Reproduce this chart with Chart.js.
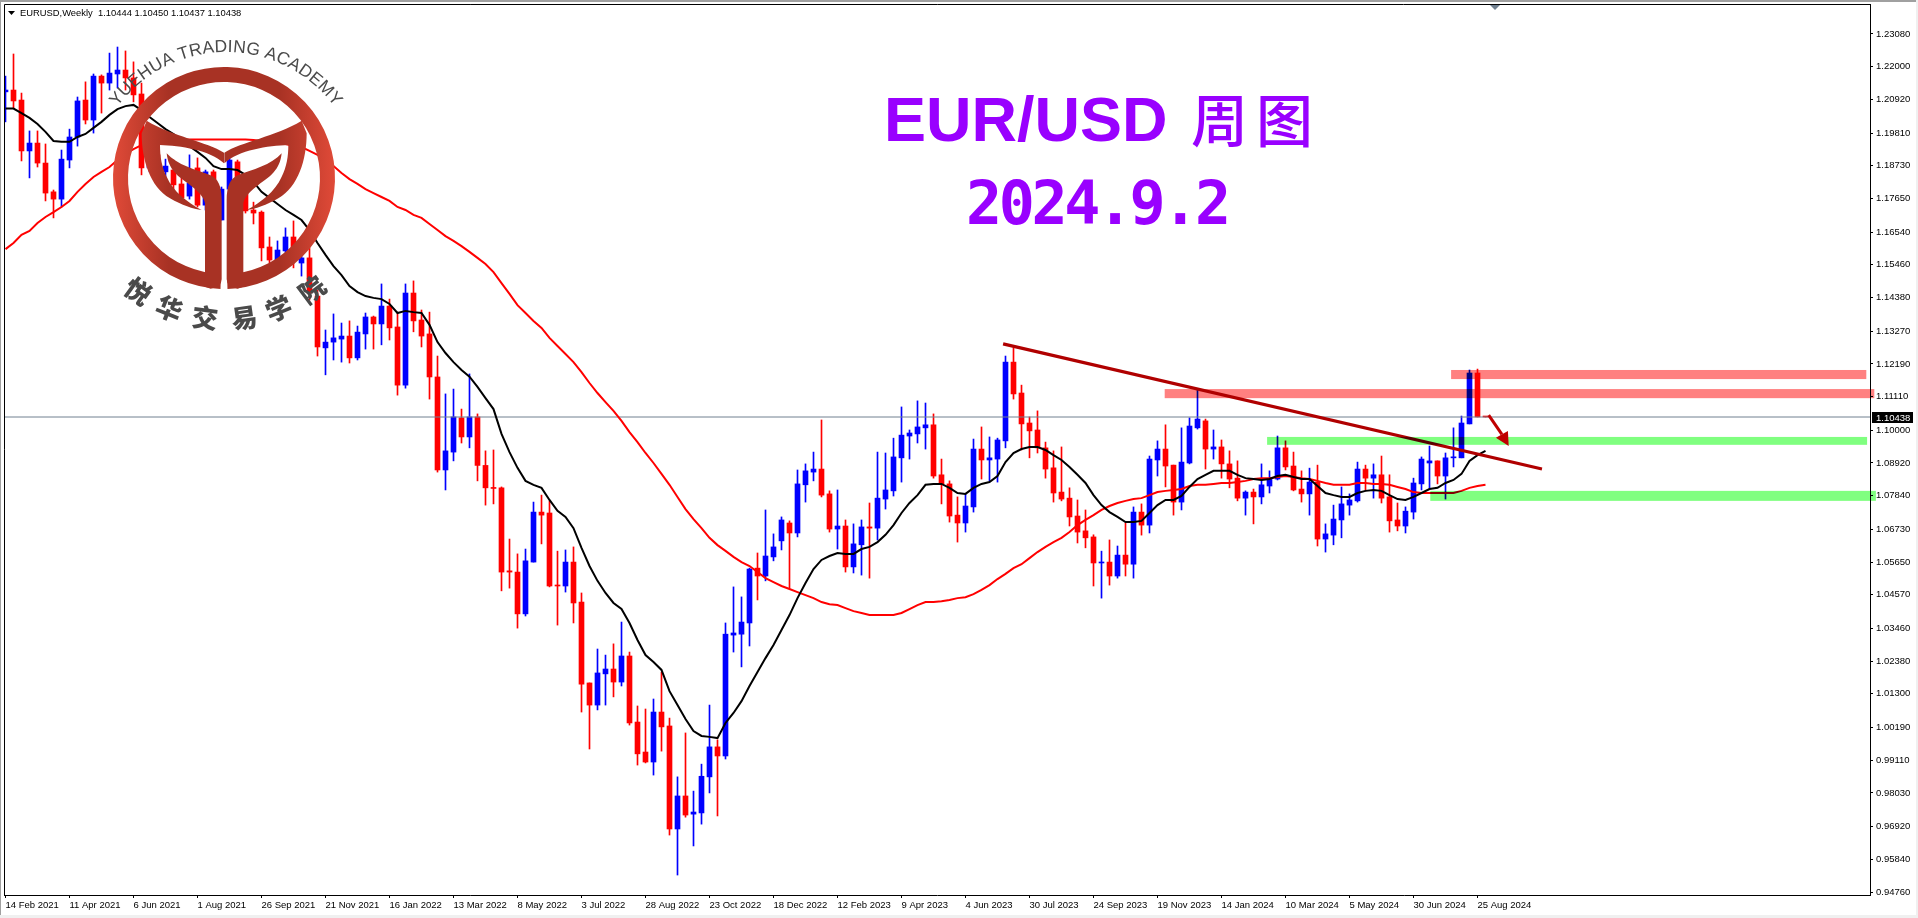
<!DOCTYPE html>
<html>
<head>
<meta charset="utf-8">
<title>EURUSD Weekly</title>
<script src="https://cdn.jsdelivr.net/npm/chart.js@4"></script>
<style>
  html, body { margin: 0; padding: 0; background: #fff; overflow: hidden; }
  canvas { display: block; }
</style>
</head>
<body>
<canvas id="chart" width="1918" height="918"></canvas>
<script>
const dateLabels = ['14 Feb 2021','11 Apr 2021','6 Jun 2021','1 Aug 2021','26 Sep 2021','21 Nov 2021','16 Jan 2022','13 Mar 2022','8 May 2022','3 Jul 2022','28 Aug 2022','23 Oct 2022','18 Dec 2022','12 Feb 2023','9 Apr 2023','4 Jun 2023','30 Jul 2023','24 Sep 2023','19 Nov 2023','14 Jan 2024','10 Mar 2024','5 May 2024','30 Jun 2024','25 Aug 2024'];
const priceTicks = [1.2308,1.22,1.2092,1.1981,1.1873,1.1765,1.1654,1.1546,1.1438,1.1327,1.1219,1.1111,1.1,1.0892,1.0784,1.0673,1.0565,1.0457,1.0346,1.0238,1.013,1.0019,0.9911,0.9803,0.9692,0.9584,0.9476];

// weekly candles, one entry per bar
const opens = [1.2117,1.2123,1.2090,1.1922,1.1948,1.1882,1.1787,1.1763,1.1892,1.1968,
1.2090,1.2024,1.2169,1.2146,1.2176,1.2189,1.2163,1.2110,1.1866,1.1909,
1.1853,1.1859,1.1813,1.1773,1.1866,1.1743,1.1853,1.1694,1.1796,1.1886,
1.1793,1.1727,1.1720,1.1605,1.1562,1.1592,1.1638,1.1552,1.1569,1.1443,
1.1272,1.1291,1.1301,1.1311,1.1239,1.1318,1.1374,1.1351,1.1410,1.1341,
1.1149,1.1453,1.1364,1.1318,1.1176,1.0869,1.0928,1.1041,1.0978,1.1044,
1.0884,1.0811,1.0810,1.0536,1.0532,1.0394,1.0565,1.0730,1.0727,1.0489,
1.0486,1.0565,1.0433,1.0166,1.0093,1.0196,1.0212,1.0169,1.0255,1.0037,
0.9938,0.9905,1.0070,1.0024,0.9684,0.9793,0.9733,0.9737,0.9856,0.9955,
0.9925,1.0324,1.0327,1.0364,1.0545,1.0519,1.0582,1.0635,1.0694,1.0661,
1.0820,1.0862,1.0872,1.0790,1.0674,1.0684,1.0549,1.0622,1.0681,1.0677,
1.0773,1.0800,1.0909,1.0981,1.0988,1.1008,1.1018,1.0853,1.0823,1.0720,
1.0694,1.0747,1.0938,1.0902,1.0905,1.0965,1.1225,1.1123,1.1024,1.1001,
1.0942,1.0876,1.0796,1.0776,1.0717,1.0668,1.0648,1.0562,1.0565,1.0519,
1.0588,1.0558,1.0730,1.0687,1.0902,1.0938,1.0885,1.0763,1.0892,1.1008,
1.1031,1.0938,1.0945,1.0889,1.0842,1.0776,1.0796,1.0780,1.0816,1.0839,
1.0942,1.0882,1.0806,1.0790,1.0829,1.0641,1.0654,1.0704,1.0753,1.0767,
1.0872,1.0842,1.0853,1.0780,1.0704,1.0684,1.0730,1.0823,1.0892,1.0899,
1.0849,1.0909,1.0909,1.1021,1.1189,1.10444];
const highs = [1.2169,1.2242,1.2113,1.1988,1.1988,1.1945,1.1793,1.1925,1.1994,1.2100,
1.2150,1.2176,1.2173,1.2245,1.2265,1.2252,1.2216,1.2146,1.1925,1.1941,
1.1895,1.1892,1.1833,1.1909,1.1899,1.1859,1.1859,1.1803,1.1899,1.1892,
1.1810,1.1753,1.1724,1.1638,1.1625,1.1668,1.1691,1.1585,1.1602,1.1463,
1.1331,1.1384,1.1354,1.1361,1.1344,1.1387,1.1377,1.1483,1.1433,1.1390,
1.1483,1.1493,1.1397,1.1390,1.1245,1.1120,1.1136,1.1070,1.1186,1.1054,
1.0932,1.0935,1.0813,1.0641,1.0592,1.0608,1.0763,1.0786,1.0767,1.0601,
1.0605,1.0615,1.0463,1.0166,1.0278,1.0258,1.0295,1.0367,1.0268,1.0090,
1.0080,1.0113,1.0202,1.0050,0.9856,1.0001,0.9809,0.9898,1.0093,0.9978,
1.0364,1.0483,1.0450,1.0545,1.0595,1.0737,1.0658,1.0714,1.0701,1.0869,
1.0889,1.0928,1.1034,1.0800,1.0803,1.0704,1.0691,1.0704,1.0760,1.0928,
1.0925,1.0974,1.1077,1.1001,1.1097,1.1090,1.1054,1.0905,1.0833,1.0780,
1.0790,1.0971,1.1011,1.0978,1.0974,1.1245,1.1272,1.1149,1.1044,1.1064,
1.0961,1.0932,1.0945,1.0810,1.0770,1.0737,1.0655,1.0601,1.0638,1.0618,
1.0694,1.0747,1.0757,1.0915,1.0965,1.1018,1.0885,1.1008,1.1041,1.1136,
1.1037,1.1001,1.0968,1.0932,1.0899,1.0800,1.0806,1.0889,1.0866,1.0981,
1.0965,1.0928,1.0866,1.0875,1.0885,1.0691,1.0753,1.0813,1.0790,1.0895,
1.0885,1.0889,1.0915,1.0853,1.0760,1.0747,1.0842,1.0912,1.0948,1.0899,
1.0925,1.1008,1.1047,1.1199,1.1202,1.10450];
const lows = [1.2018,1.2064,1.1889,1.1833,1.1869,1.1757,1.1701,1.1737,1.1866,1.1938,
1.2011,1.1981,1.2047,1.2123,1.2130,1.2123,1.2084,1.1843,1.1853,1.1833,
1.1826,1.1787,1.1760,1.1763,1.1737,1.1727,1.1678,1.1694,1.1793,1.1787,
1.1717,1.1681,1.1559,1.1552,1.1546,1.1569,1.1536,1.1509,1.1430,1.1245,
1.1183,1.1232,1.1225,1.1222,1.1232,1.1268,1.1268,1.1282,1.1298,1.1116,
1.1139,1.1325,1.1275,1.1103,1.0862,1.0803,1.0899,1.0958,1.0942,1.0833,
1.0753,1.0757,1.0470,1.0479,1.0347,1.0387,1.0565,1.0625,1.0483,1.0357,
1.0466,1.0364,1.0070,0.9948,1.0077,1.0093,1.0120,1.0156,1.0027,0.9895,
0.9902,0.9862,0.9941,0.9664,0.9532,0.9723,0.9628,0.9700,0.9803,0.9727,
0.9915,1.0268,1.0219,1.0288,1.0440,1.0503,1.0569,1.0605,1.0479,1.0648,
1.0763,1.0833,1.0780,1.0664,1.0608,1.0532,1.0529,1.0522,1.0512,1.0638,
1.0740,1.0783,1.0829,1.0905,1.0958,1.0938,1.0842,1.0757,1.0697,1.0631,
1.0664,1.0730,1.0839,1.0833,1.0829,1.0942,1.1103,1.0935,1.0909,1.0925,
1.0842,1.0763,1.0767,1.0684,1.0628,1.0612,1.0486,1.0446,1.0489,1.0512,
1.0519,1.0512,1.0654,1.0661,1.0849,1.0813,1.0720,1.0737,1.0889,1.1004,
1.0872,1.0905,1.0842,1.0810,1.0767,1.0720,1.0691,1.0757,1.0793,1.0836,
1.0869,1.0800,1.0763,1.0720,1.0618,1.0598,1.0622,1.0645,1.0720,1.0763,
1.0800,1.0776,1.0760,1.0664,1.0668,1.0661,1.0707,1.0803,1.0806,1.0823,
1.0773,1.0879,1.0909,1.1021,1.1044,1.10437];
const closes = [1.2123,1.2087,1.1922,1.1948,1.1882,1.1783,1.1763,1.1895,1.1968,1.2087,
1.2024,1.2169,1.2146,1.2179,1.2189,1.2163,1.2107,1.1866,1.1909,1.1853,
1.1872,1.1810,1.1767,1.1816,1.1743,1.1853,1.1694,1.1796,1.1892,1.1793,
1.1724,1.1717,1.1602,1.1562,1.1595,1.1638,1.1595,1.1569,1.1453,1.1275,
1.1291,1.1305,1.1311,1.1239,1.1324,1.1374,1.1351,1.1410,1.1338,1.1149,
1.1453,1.1361,1.1311,1.1176,1.0869,1.0932,1.1044,1.0978,1.1044,1.0884,
1.0810,1.0808,1.0532,1.0532,1.0394,1.0569,1.0730,1.0720,1.0486,1.0486,
1.0565,1.0430,1.0162,1.0093,1.0199,1.0212,1.0169,1.0255,1.0034,0.9932,
0.9905,1.0070,1.0021,0.9684,0.9793,0.9730,0.9740,0.9858,0.9955,0.9925,
1.0327,1.0331,1.0367,1.0542,1.0519,1.0585,1.0615,1.0704,1.0661,1.0823,
1.0866,1.0872,1.0786,1.0674,1.0684,1.0549,1.0625,1.0681,1.0677,1.0776,
1.0803,1.0912,1.0984,1.0991,1.1011,1.1018,1.0849,1.0823,1.0717,1.0694,
1.0750,1.0938,1.0902,1.0909,1.0968,1.1225,1.1120,1.1021,1.0998,1.0942,
1.0872,1.0793,1.0773,1.0714,1.0664,1.0645,1.0562,1.0565,1.0519,1.0588,
1.0558,1.0730,1.0687,1.0905,1.0938,1.0882,1.0763,1.0895,1.1014,1.1037,
1.0938,1.0945,1.0889,1.0839,1.0776,1.0796,1.0780,1.0820,1.0839,1.0942,
1.0879,1.0803,1.0790,1.0829,1.0641,1.0658,1.0707,1.0757,1.0770,1.0872,
1.0842,1.0853,1.0776,1.0701,1.0684,1.0733,1.0826,1.0905,1.0899,1.0849,
1.0909,1.0912,1.1024,1.1189,1.1044,1.10438];

// the two moving average lines
const maBlack = [1.2062,1.2062,1.2047,1.2031,1.2011,1.1985,1.1955,1.1952,1.1952,1.1968,
1.1978,1.1998,1.2018,1.2041,1.2060,1.2070,1.2074,1.2057,1.2034,1.2014,
1.1994,1.1978,1.1958,1.1938,1.1919,1.1899,1.1872,1.1862,1.1862,1.1859,
1.1843,1.1820,1.1787,1.1767,1.1747,1.1727,1.1711,1.1694,1.1661,1.1618,
1.1579,1.1542,1.1512,1.1476,1.1456,1.1443,1.1437,1.1433,1.1417,1.1387,
1.1394,1.1390,1.1387,1.1348,1.1291,1.1255,1.1225,1.1199,1.1177,1.1143,
1.1106,1.1070,1.0988,1.0928,1.0876,1.0833,1.0820,1.0810,1.0770,1.0734,
1.0714,1.0677,1.0612,1.0552,1.0503,1.0463,1.0430,1.0410,1.0364,1.0308,
1.0258,1.0235,1.0209,1.0139,1.0093,1.0047,1.0007,0.9991,0.9988,0.9984,
1.0034,1.0067,1.0106,1.0156,1.0202,1.0248,1.0291,1.0341,1.0390,1.0446,
1.0496,1.0542,1.0572,1.0585,1.0595,1.0592,1.0592,1.0608,1.0615,1.0631,
1.0655,1.0687,1.0727,1.0760,1.0786,1.0820,1.0823,1.0823,1.0810,1.0793,
1.0790,1.0810,1.0823,1.0829,1.0849,1.0895,1.0925,1.0938,1.0945,1.0945,
1.0935,1.0918,1.0902,1.0879,1.0853,1.0826,1.0786,1.0753,1.0730,1.0714,
1.0697,1.0697,1.0701,1.0727,1.0753,1.0770,1.0770,1.0783,1.0813,1.0839,
1.0853,1.0866,1.0866,1.0866,1.0853,1.0842,1.0839,1.0836,1.0839,1.0849,
1.0853,1.0846,1.0839,1.0839,1.0816,1.0793,1.0786,1.0780,1.0780,1.0793,
1.0800,1.0803,1.0800,1.0786,1.0773,1.0770,1.0780,1.0793,1.0806,1.0810,
1.0826,1.0836,1.0856,1.0899,1.0918,1.0932];
const maRed = [1.1598,1.1618,1.1645,1.1658,1.1684,1.1704,1.1720,1.1737,1.1757,1.1787,
1.1813,1.1836,1.1853,1.1869,1.1892,1.1912,1.1928,1.1941,1.1952,1.1958,
1.1960,1.1960,1.1960,1.1960,1.1960,1.1960,1.1960,1.1960,1.1960,1.1960,
1.1960,1.1958,1.1955,1.1952,1.1948,1.1945,1.1938,1.1935,1.1922,1.1909,
1.1892,1.1872,1.1849,1.1829,1.1813,1.1796,1.1783,1.1770,1.1757,1.1737,
1.1727,1.1711,1.1701,1.1681,1.1661,1.1641,1.1625,1.1608,1.1589,1.1569,
1.1549,1.1522,1.1486,1.1450,1.1413,1.1387,1.1361,1.1338,1.1305,1.1278,
1.1252,1.1225,1.1192,1.1156,1.1123,1.1093,1.1064,1.1031,1.0994,1.0961,
1.0925,1.0892,1.0856,1.0820,1.0780,1.0740,1.0707,1.0677,1.0645,1.0621,
1.0602,1.0582,1.0565,1.0552,1.0532,1.0512,1.0499,1.0486,1.0476,1.0466,
1.0456,1.0446,1.0433,1.0426,1.0423,1.0413,1.0403,1.0397,1.0390,1.0390,
1.0390,1.0390,1.0397,1.0410,1.0423,1.0433,1.0433,1.0436,1.0440,1.0446,
1.0449,1.0459,1.0473,1.0489,1.0509,1.0526,1.0545,1.0558,1.0578,1.0598,
1.0615,1.0631,1.0645,1.0664,1.0687,1.0704,1.0720,1.0737,1.0750,1.0760,
1.0767,1.0773,1.0776,1.0786,1.0796,1.0800,1.0803,1.0806,1.0816,1.0820,
1.0820,1.0823,1.0826,1.0826,1.0829,1.0833,1.0839,1.0842,1.0842,1.0846,
1.0849,1.0846,1.0842,1.0839,1.0833,1.0826,1.0820,1.0820,1.0820,1.0826,
1.0826,1.0823,1.0823,1.0820,1.0813,1.0806,1.0796,1.0793,1.0793,1.0793,
1.0793,1.0793,1.0800,1.0810,1.0816,1.0820];

const lastPrice = 1.10438;
// trend line end points: bar number, price
const trendBars = [124.7, 192.06];
const trendPrices = [1.1285, 1.0872];
// drawn zones: from bar, to bar, upper price, lower price
const zoneFrom = [180.7, 144.9, 157.7, 178.1];
const zoneTo = [232.6, 233.6, 232.7, 233.8];
const zoneHigh = [1.1199, 1.1136, 1.0978, 1.0800];
const zoneLow = [1.1169, 1.1106, 1.0952, 1.0767];
const zoneColors = ['#ff8080', '#ff8080', '#80ff80', '#80ff80'];
// arrow: tail, tip, two head corners
const arrowBars = [185.4, 187.9, 186.3, 187.8];
const arrowPrices = [1.1050, 1.0948, 1.0975, 1.0998];

const bars = opens.map((o, i) => i);
const candleColors = opens.map((o, i) => closes[i] >= o ? '#0000ff' : '#ff0000');

function drawWindow(chart) {
  const ctx = chart.ctx;
  ctx.save();
  ctx.fillStyle = '#fff';
  ctx.fillRect(0, 0, 1918, 918);
  ctx.fillStyle = '#a0a0a0';
  ctx.fillRect(0, 0, 1918, 2);
  ctx.fillRect(0, 0, 1, 918);
  ctx.fillStyle = '#f0f0f0';
  ctx.fillRect(0, 915, 1918, 3);
  ctx.fillRect(1916, 0, 2, 918);
  ctx.restore();
}

function drawFrame(chart) {
  const ctx = chart.ctx;
  const a = chart.chartArea;
  ctx.save();
  ctx.strokeStyle = '#000';
  ctx.lineWidth = 1;
  ctx.beginPath();
  ctx.moveTo(a.left + 0.5, a.bottom);
  ctx.lineTo(a.left + 0.5, a.top + 0.5);
  ctx.lineTo(a.right, a.top + 0.5);
  ctx.stroke();
  ctx.restore();
}

function drawZones(chart) {
  const ctx = chart.ctx;
  const x = chart.scales.x;
  const y = chart.scales.y;
  ctx.save();
  // the zones tint what lies under them
  ctx.globalCompositeOperation = 'multiply';
  zoneFrom.forEach((from, i) => {
    ctx.fillStyle = zoneColors[i];
    const top = y.getPixelForValue(zoneHigh[i]);
    ctx.fillRect(x.getPixelForValue(from), top, x.getPixelForValue(zoneTo[i]) - x.getPixelForValue(from), y.getPixelForValue(zoneLow[i]) - top);
  });
  ctx.restore();
}

function drawArrow(chart) {
  const ctx = chart.ctx;
  const px = arrowBars.map(b => chart.scales.x.getPixelForValue(b));
  const py = arrowPrices.map(p => chart.scales.y.getPixelForValue(p));
  ctx.save();
  ctx.strokeStyle = '#c00000';
  ctx.fillStyle = '#c00000';
  ctx.lineWidth = 3;
  ctx.beginPath();
  ctx.moveTo(px[0], py[0]);
  ctx.lineTo((px[2] + px[3]) / 2, (py[2] + py[3]) / 2);
  ctx.stroke();
  ctx.beginPath();
  ctx.moveTo(px[1], py[1]);
  ctx.lineTo(px[2], py[2]);
  ctx.lineTo(px[3], py[3]);
  ctx.closePath();
  ctx.fill();
  ctx.restore();
}

function drawPriceTag(chart) {
  const ctx = chart.ctx;
  const py = Math.round(chart.scales.y.getPixelForValue(lastPrice));
  ctx.save();
  ctx.fillStyle = '#000';
  ctx.fillRect(1872, py - 5, 41, 11);
  ctx.fillStyle = '#fff';
  ctx.font = '9.5px "Liberation Sans"';
  ctx.textBaseline = 'middle';
  ctx.fillText(lastPrice.toFixed(5), 1876, py + 1);
  // shift marker at the top of the window
  ctx.fillStyle = '#708090';
  ctx.beginPath();
  ctx.moveTo(1490, 5);
  ctx.lineTo(1500, 5);
  ctx.lineTo(1495, 10);
  ctx.closePath();
  ctx.fill();
  ctx.restore();
}

function drawHeader(chart) {
  const ctx = chart.ctx;
  ctx.save();
  ctx.fillStyle = '#000';
  ctx.beginPath();
  ctx.moveTo(8, 11);
  ctx.lineTo(15, 11);
  ctx.lineTo(11.5, 15);
  ctx.closePath();
  ctx.fill();
  ctx.font = '9.4px "Liberation Sans"';
  ctx.textBaseline = 'middle';
  ctx.fillText('EURUSD,Weekly  1.10444 1.10450 1.10437 1.10438', 20, 13);

  ctx.fillStyle = '#9900ff';
  ctx.textBaseline = 'alphabetic';
  ctx.font = 'bold 63px "Liberation Sans"';
  ctx.fillText('EUR/USD', 884, 141);
  ctx.font = '500 57px "Noto Sans CJK SC"';
  ctx.letterSpacing = '8px';
  ctx.fillText('周图', 1191, 142);
  ctx.font = 'bold 60px "DejaVu Sans Mono"';
  ctx.letterSpacing = '-3.4px';
  ctx.fillText('2024.9.2', 966, 224);
  ctx.restore();
}

// one half of the logo, in 3x crop units, mirrored for the other half
function logoHalf(ctx, sign) {
  const mx = v => sign > 0 ? v : 1345 - v;
  ctx.beginPath();
  ctx.moveTo(mx(672), 458);
  ctx.bezierCurveTo(mx(620), 425, mx(520), 410, mx(440), 362);
  ctx.lineTo(mx(425), 400);
  ctx.bezierCurveTo(mx(425), 480, mx(450), 560, mx(510), 595);
  ctx.bezierCurveTo(mx(545), 615, mx(580), 628, mx(605), 630);
  ctx.bezierCurveTo(mx(560), 605, mx(520), 575, mx(500), 530);
  ctx.bezierCurveTo(mx(485), 500, mx(480), 470, mx(480), 435);
  ctx.bezierCurveTo(mx(540), 437, mx(630), 450, mx(672), 490);
  ctx.closePath();
  ctx.fill();
  ctx.beginPath();
  ctx.moveTo(mx(500), 460);
  ctx.bezierCurveTo(mx(530), 495, mx(590), 510, mx(630), 525);
  ctx.bezierCurveTo(mx(655), 535, mx(665), 560, mx(665), 600);
  ctx.lineTo(mx(665), 838);
  ctx.quadraticCurveTo(mx(665), 860, mx(632), 866);
  ctx.lineTo(mx(615), 860);
  ctx.lineTo(mx(615), 610);
  ctx.bezierCurveTo(mx(612), 590, mx(590), 570, mx(570), 555);
  ctx.bezierCurveTo(mx(535), 530, mx(505), 510, mx(500), 460);
  ctx.closePath();
  ctx.fill();
}

function drawLogo(chart) {
  const ctx = chart.ctx;
  ctx.save();
  const g = ctx.createLinearGradient(113, 0, 335, 0);
  g.addColorStop(0, '#e04a38');
  g.addColorStop(0.25, '#a83224');
  g.addColorStop(0.75, '#a83224');
  g.addColorStop(1, '#e04a38');
  ctx.strokeStyle = g;
  ctx.fillStyle = g;
  ctx.lineWidth = 15;
  ctx.beginPath();
  ctx.arc(224, 178, 103.5, Math.PI * 0.51, Math.PI * 0.49);
  ctx.stroke();
  ctx.save();
  ctx.scale(1 / 3, 1 / 3);
  ctx.fillStyle = (function () {
    const s = ctx.createLinearGradient(339, 0, 1005, 0);
    s.addColorStop(0, '#e04a38');
    s.addColorStop(0.25, '#a83224');
    s.addColorStop(0.75, '#a83224');
    s.addColorStop(1, '#e04a38');
    return s;
  })();
  logoHalf(ctx, 1);
  logoHalf(ctx, -1);
  ctx.restore();

  // English name on the upper arc
  const name = 'YUEHUA TRADING ACADEMY';
  ctx.fillStyle = '#4a4a4a';
  ctx.font = '17.5px "Liberation Sans"';
  ctx.textAlign = 'center';
  ctx.textBaseline = 'alphabetic';
  const radius = 135;
  let total = 0;
  const widths = name.split('').map(c => { const w = ctx.measureText(c).width + 0.2; total += w; return w; });
  let angle = -total / 2 / radius;
  name.split('').forEach((c, i) => {
    const mid = angle + widths[i] / 2 / radius;
    ctx.save();
    ctx.translate(226 + radius * Math.sin(mid), 187 - radius * Math.cos(mid));
    ctx.rotate(mid);
    ctx.fillText(c, 0, 0);
    ctx.restore();
    angle += widths[i] / radius;
  });

  // Chinese name on the lower arc
  const cn = '悦华交易学院';
  const cnAngles = [36, 22, 7.5, -8, -22, -37];
  ctx.font = '900 26px "Noto Sans CJK SC"';
  ctx.textBaseline = 'middle';
  cn.split('').forEach((c, i) => {
    const a = cnAngles[i] * Math.PI / 180;
    ctx.save();
    ctx.translate(224 - 146 * Math.sin(a), 173 + 146 * Math.cos(a));
    ctx.rotate(a);
    ctx.fillText(c, 0, 0);
    ctx.restore();
  });
  ctx.restore();
}

const overlayPlugin = {
  id: 'overlay',
  beforeDraw: drawWindow,
  afterDatasetsDraw(chart) {
    drawZones(chart);
    drawArrow(chart);
    drawFrame(chart);
    drawPriceTag(chart);
    drawLogo(chart);
    drawHeader(chart);
  },
};

new Chart(document.getElementById('chart'), {
  type: 'bar',
  data: {
    datasets: [
      {
        label: 'Wicks',
        data: bars.map(i => ({ x: i, y: [lows[i], highs[i]] })),
        backgroundColor: candleColors,
        grouped: false,
        maxBarThickness: 1,
        barPercentage: 1,
        categoryPercentage: 1,
        order: 6,
      },
      {
        label: 'Bodies',
        data: bars.map(i => ({ x: i, y: [opens[i], closes[i]] })),
        backgroundColor: candleColors,
        grouped: false,
        maxBarThickness: 5,
        barPercentage: 1,
        categoryPercentage: 1,
        minBarLength: 1,
        order: 5,
      },
      {
        type: 'line',
        label: 'Last price',
        data: [{ x: -1, y: lastPrice }, { x: 240, y: lastPrice }],
        borderColor: '#708090',
        borderWidth: 1,
        pointRadius: 0,
        order: 4,
      },
      {
        type: 'line',
        label: 'MA red',
        data: bars.map(i => ({ x: i, y: maRed[i] })),
        borderColor: '#ff0000',
        borderWidth: 2,
        pointRadius: 0,
        order: 3,
      },
      {
        type: 'line',
        label: 'MA black',
        data: bars.map(i => ({ x: i, y: maBlack[i] })),
        borderColor: '#000000',
        borderWidth: 2,
        pointRadius: 0,
        order: 2,
      },
      {
        type: 'line',
        label: 'Trend',
        data: trendBars.map((b, i) => ({ x: b, y: trendPrices[i] })),
        borderColor: '#b00000',
        borderWidth: 3.2,
        pointRadius: 0,
        order: 1,
      },
    ],
  },
  options: {
    responsive: false,
    animation: false,
    events: [],
    layout: { padding: { left: 4, top: 4, right: 0, bottom: 0 } },
    plugins: { legend: { display: false }, tooltip: { enabled: false } },
    scales: {
      x: {
        type: 'linear',
        min: -0.1875,
        max: 233.0625,
        offset: false,
        grid: { display: true, offset: false, drawOnChartArea: false, tickLength: 3, color: '#000' },
        border: { color: '#000', width: 1 },
        afterBuildTicks(scale) {
          scale.ticks = dateLabels.map((d, i) => ({ value: i * 8 }));
        },
        afterFit(scale) {
          scale.height = 23;
          // no room reserved for labels past the plot edges
          scale.paddingLeft = 0;
          scale.paddingRight = 0;
        },
        ticks: {
          autoSkip: false,
          maxRotation: 0,
          align: 'start',
          padding: 2,
          color: '#000',
          font: { family: 'Liberation Sans', size: 9.5 },
          callback: v => dateLabels[v / 8],
        },
      },
      y: {
        type: 'linear',
        position: 'right',
        min: 0.94661,
        max: 1.2407,
        grid: { display: true, drawOnChartArea: false, tickLength: 3, color: '#000' },
        border: { color: '#000', width: 1 },
        afterBuildTicks(scale) {
          scale.ticks = priceTicks.map(v => ({ value: v }));
        },
        afterFit(scale) {
          scale.width = 48;
          scale.paddingTop = 0;
          scale.paddingBottom = 0;
        },
        ticks: {
          autoSkip: false,
          padding: 3,
          color: '#000',
          font: { family: 'Liberation Sans', size: 9.5 },
          callback: v => v.toFixed(5),
        },
      },
    },
  },
  plugins: [overlayPlugin],
});
</script>
</body>
</html>
